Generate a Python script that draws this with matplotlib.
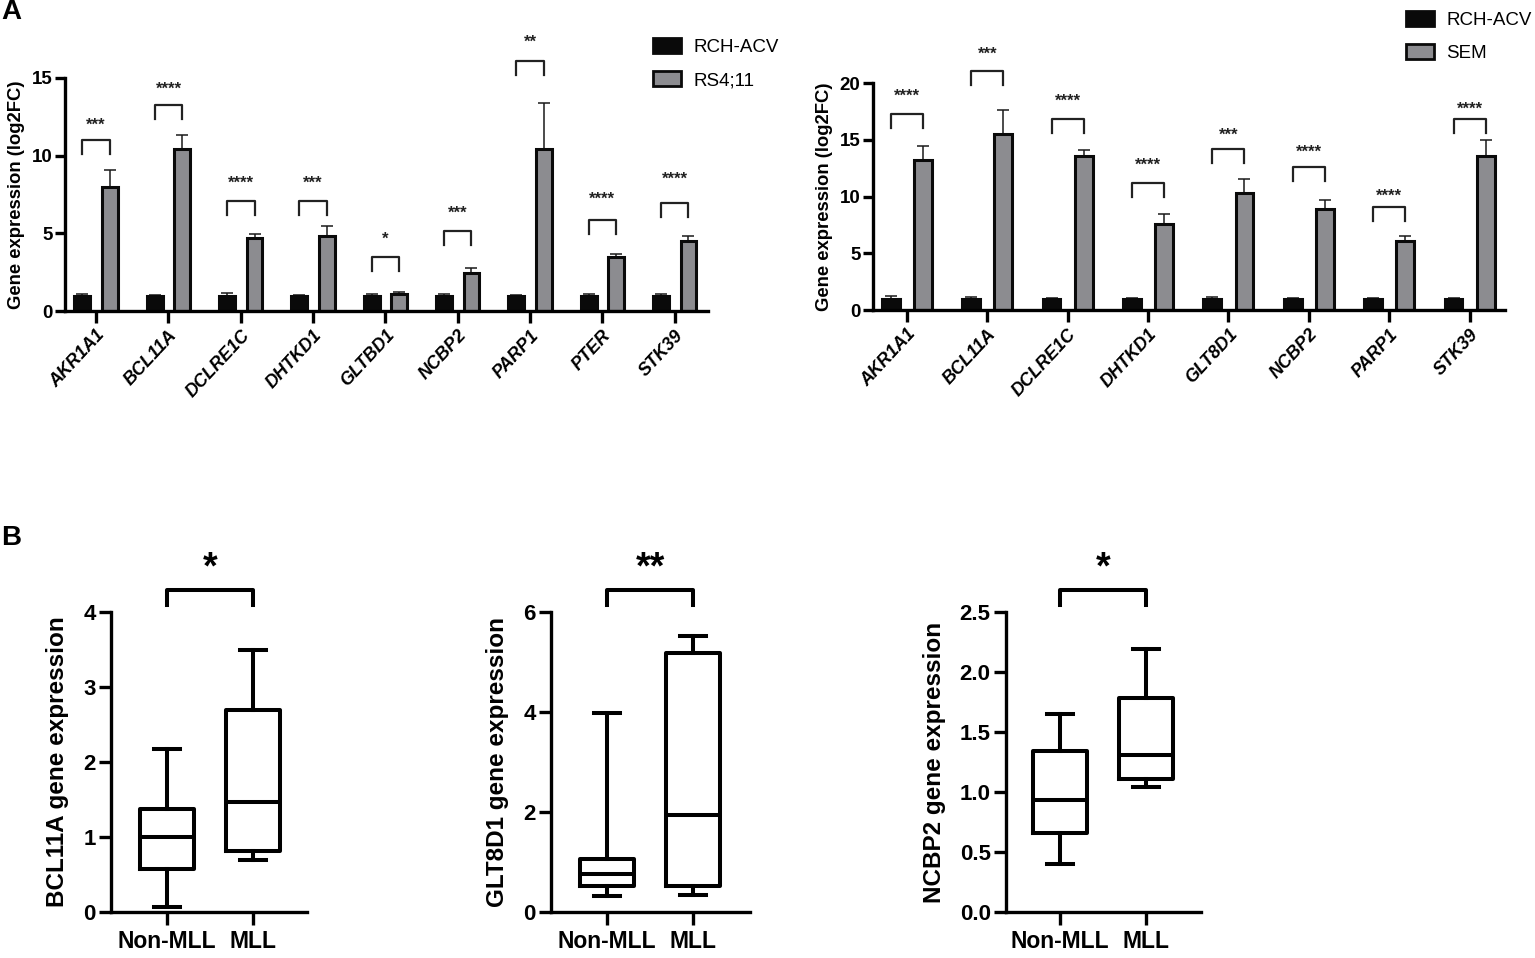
import matplotlib.pyplot as plt
from matplotlib.patches import Patch

plt.rcParams['font.family'] = ['Liberation Sans', 'DejaVu Sans']

W, H = 1535, 958

# Panel A, left
genes_rs = ['AKR1A1', 'BCL11A', 'DCLRE1C', 'DHTKD1', 'GLTBD1', 'NCBP2', 'PARP1', 'PTER', 'STK39']
ctrl_rs = [0.95, 0.95, 0.95, 0.95, 0.95, 0.95, 0.95, 0.95, 0.95]
ctrl_rs_top = [1.1, 1.02, 1.15, 1.04, 1.1, 1.08, 1.02, 1.12, 1.1]
vals_rs = [8.0, 10.4, 4.7, 4.85, 1.12, 2.45, 10.45, 3.5, 4.5]
vals_rs_top = [9.1, 11.35, 4.95, 5.5, 1.25, 2.75, 13.4, 3.7, 4.85]
brk_rs = [11.0, 13.25, 7.1, 7.1, 3.5, 5.15, 16.1, 5.85, 6.95]
star_y_rs = [11.5, 13.8, 7.77, 7.77, 4.16, 5.84, 16.8, 6.74, 8.0]
stars_rs = ['***', '****', '****', '***', '*', '***', '**', '****', '****']

# Panel A, right
genes_sem = ['AKR1A1', 'BCL11A', 'DCLRE1C', 'DHTKD1', 'GLT8D1', 'NCBP2', 'PARP1', 'STK39']
ctrl_sem = [0.93, 0.93, 0.93, 0.93, 0.93, 0.93, 0.93, 0.93]
ctrl_sem_top = [1.2, 1.12, 1.1, 1.07, 1.15, 1.05, 1.1, 1.05]
vals_sem = [13.18, 15.53, 13.58, 7.58, 10.28, 8.93, 6.08, 13.58]
vals_sem_top = [14.45, 17.65, 14.1, 8.45, 11.5, 9.7, 6.55, 14.95]
brk_sem = [17.25, 21.05, 16.8, 11.2, 14.2, 12.6, 9.05, 16.8]
star_y_sem = [18.2, 21.9, 17.7, 12.1, 14.7, 13.2, 9.4, 17.0]
stars_sem = ['****', '***', '****', '****', '***', '****', '****', '****']

# Panel B: low whisker, q1, median, q3, high whisker
groups = ['Non-MLL', 'MLL']
bcl11a = [[0.07, 0.57, 1.0, 1.37, 2.17], [0.7, 0.82, 1.47, 2.7, 3.5]]
glt8d1 = [[0.33, 0.52, 0.77, 1.07, 3.98], [0.35, 0.53, 1.95, 5.18, 5.53]]
ncbp2 = [[0.4, 0.66, 0.93, 1.34, 1.65], [1.04, 1.11, 1.31, 1.78, 2.19]]


def make_axes(fig, left, right, top, bottom):
    return fig.add_axes([left / W, 1 - bottom / H, (right - left) / W, (bottom - top) / H])


def style_axes(ax, lw):
    ax.spines['top'].set_visible(False)
    ax.spines['right'].set_visible(False)
    ax.spines['left'].set_linewidth(lw)
    ax.spines['bottom'].set_linewidth(lw)
    ax.patch.set_alpha(0)


def bar_panel(fig, box, genes, ctrl, ctrl_top, vals, vals_top, brk, star_y, stars, ymax, yticks, xlim, off, bw):
    ax = make_axes(fig, *box)
    style_axes(ax, 2.4)
    ax.set_xlim(*xlim)
    ax.set_ylim(0, ymax)
    for i in range(len(genes)):
        ax.errorbar(i - off, ctrl[i], yerr=[[0], [ctrl_top[i] - ctrl[i]]], color='#1a1a1a', lw=1.1, capsize=4, capthick=1.1, zorder=1)
        ax.errorbar(i + off, vals[i], yerr=[[0], [vals_top[i] - vals[i]]], color='#1a1a1a', lw=1.1, capsize=4.5, capthick=1.1, zorder=1)
    ax.bar([i - off for i in range(len(genes))], ctrl, width=bw, color='#0a0a0a', edgecolor='#0a0a0a', lw=2.2, zorder=2)
    ax.bar([i + off for i in range(len(genes))], vals, width=bw, color='#8c8c90', edgecolor='#0a0a0a', lw=2.2, zorder=2)
    leg = (ymax / (box[3] - box[2])) * 14
    for i, top in enumerate(brk):
        ax.plot([i - off, i - off, i + off, i + off], [top - leg, top, top, top - leg], color='#222222', lw=1.6, clip_on=False)
        ax.text(i, star_y[i], stars[i], ha='center', va='bottom', fontsize=12, fontweight='bold', color='#222222', clip_on=False)
    ax.set_yticks(yticks)
    ax.set_xticks(range(len(genes)))
    ax.set_xticklabels(genes, rotation=47, ha='right', rotation_mode='anchor', style='italic', fontweight='bold', fontsize=13)
    ax.tick_params(axis='x', width=2.4, length=8.5, pad=3)
    ax.tick_params(axis='y', width=2.4, length=7, pad=2, labelsize=13.5)
    for t in ax.get_yticklabels():
        t.set_fontweight('bold')
    ax.set_ylabel('Gene expression (log2FC)', fontsize=13.3, fontweight='bold', labelpad=5)
    return ax


def box_panel(fig, box, data, ymax, yticks, fmt, name, stars, xlim):
    ax = make_axes(fig, *box)
    style_axes(ax, 2.4)
    stats = []
    for g, d in zip(groups, data):
        stats.append({'label': g, 'whislo': d[0], 'q1': d[1], 'med': d[2], 'q3': d[3], 'whishi': d[4]})
    line = {'color': 'black', 'lw': 2.9}
    ax.bxp(stats, positions=[0, 1], widths=0.63, showfliers=False, boxprops=line, medianprops=line,
           whiskerprops=line, capprops=line, capwidths=0.3)
    ax.set_xlim(*xlim)
    ax.set_ylim(0, ymax)
    ax.set_yticks(yticks)
    ax.set_yticklabels([fmt % v for v in yticks], fontsize=16, fontweight='bold')
    ax.set_xticks([0, 1])
    ax.set_xticklabels(groups, fontsize=16.5, fontweight='bold')
    ax.tick_params(axis='x', width=2.4, length=9, pad=4)
    ax.tick_params(axis='y', width=2.4, length=9, pad=2)
    ax.set_ylabel(name + ' gene expression', fontsize=17.5, fontweight='bold', labelpad=10)
    # bracket sits above the axis
    u = ymax / (box[3] - box[2])
    ax.plot([0, 0, 1, 1], [ymax + 7 * u, ymax + 22 * u, ymax + 22 * u, ymax + 7 * u], color='black', lw=2.9, clip_on=False)
    ax.text(0.5, ymax + 26 * u, stars, ha='center', va='bottom', fontsize=27, fontweight='bold', clip_on=False)
    return ax


def legend_at(fig, x, y, labels):
    handles = [Patch(facecolor='#0a0a0a', edgecolor='#0a0a0a', lw=2.0),
               Patch(facecolor='#8c8c90', edgecolor='#0a0a0a', lw=2.0)]
    fig.legend(handles, labels, loc='upper left', bbox_to_anchor=(x / W, 1 - y / H), frameon=False,
               fontsize=13.5, handlelength=1.5, handleheight=0.85, handletextpad=0.65, labelspacing=0.82,
               borderaxespad=0, borderpad=0)


def main():
    fig = plt.figure(figsize=(W / 100, H / 100), dpi=100)

    bar_panel(fig, (65, 708, 78, 311), genes_rs, ctrl_rs, ctrl_rs_top, vals_rs, vals_rs_top, brk_rs, star_y_rs, stars_rs,
              15, [0, 5, 10, 15], (-0.43, 8.46), 0.19, 0.22)
    bar_panel(fig, (873, 1505, 83, 310), genes_sem, ctrl_sem, ctrl_sem_top, vals_sem, vals_sem_top, brk_sem, star_y_sem, stars_sem,
              20, [0, 5, 10, 15, 20], (-0.42, 7.44), 0.2, 0.22)
    legend_at(fig, 653, 38, ['RCH-ACV', 'RS4;11'])
    legend_at(fig, 1406, 11, ['RCH-ACV', 'SEM'])

    box_panel(fig, (111, 307, 612, 912), bcl11a, 4, [0, 1, 2, 3, 4], '%d', 'BCL11A', '*', (-0.65, 1.63))
    box_panel(fig, (551, 750, 612, 912), glt8d1, 6, [0, 2, 4, 6], '%d', 'GLT8D1', '**', (-0.65, 1.66))
    box_panel(fig, (1006, 1201, 612, 912), ncbp2, 2.5, [0, 0.5, 1.0, 1.5, 2.0, 2.5], '%.1f', 'NCBP2', '*', (-0.63, 1.64))

    fig.text(1 / W, 1 - 12 / H, 'A', fontsize=20, fontweight='bold', ha='left', va='center')
    fig.text(1 / W, 1 - 538 / H, 'B', fontsize=20, fontweight='bold', ha='left', va='center')

    fig.savefig('out.png', dpi=100)


if __name__ == '__main__':
    main()
